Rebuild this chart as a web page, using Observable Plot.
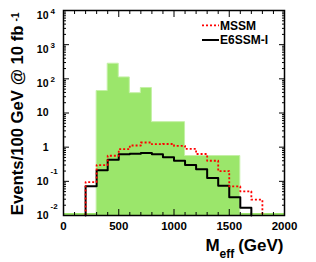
<!DOCTYPE html>
<html><head><meta charset="utf-8">
<script src="https://cdn.jsdelivr.net/npm/d3@7"></script>
<script src="https://cdn.jsdelivr.net/npm/@observablehq/plot@0.6"></script>
<style>
body{margin:0;background:#fff;}
#chart{position:relative;width:316px;height:262px;font-family:"Liberation Sans",Arial,sans-serif;}
#chart svg.plot{position:absolute;left:0;top:0;}
#legend{position:absolute;left:0;top:0;}
</style></head><body><div id="chart"></div>
<script>
// ---- data ----
const greenEdges = [300, 400, 500, 600, 700, 800, 1100, 1600];
const greenValues = [44, 277, 110, 38, 54, 5.4, 0.55];
const binEdges = [200, 300, 400, 500, 600, 700, 800, 900, 1000, 1100, 1200, 1300, 1400, 1500, 1600, 1700, 1800];
const mssmValues = [0.095, 0.30, 0.56, 0.88, 1.12, 1.37, 1.22, 1.24, 1.09, 0.89, 0.63, 0.40, 0.20, 0.071, 0.051, 0.029];
const e6ssmValues = [0.072, 0.21, 0.43, 0.625, 0.64, 0.67, 0.625, 0.51, 0.40, 0.30, 0.225, 0.125, 0.074, 0.034, 0.017];
const seriesNames = ["MSSM", "E6SSM-I"];
const xTickValues = [0, 500, 1000, 1500, 2000];
const xTickLabels = ["0", "500", "1000", "1500", "2000"];
const yTickValues = [1e-2, 1e-1, 1, 10, 1e2, 1e3, 1e4];
const yTickBase = ["10", "10", "1", "10", "10", "10", "10"];
const yTickExp = ["-2", "-1", "", "", "2", "3", "4"];
const yTitle = "Events/100 GeV @ 10 fb";
const yTitleExp = "-1";
const xTitleMain = "M", xTitleSub = "eff", xTitleUnit = "(GeV)";

// ---- derived ----
const yMin = yTickValues[0], yMax = yTickValues[yTickValues.length - 1];
const xMin = xTickValues[0], xMax = xTickValues[xTickValues.length - 1];
function stepPoints(edges, values) {
  const n = values.length;
  const pts = [{x: edges[0], y: yMin}];
  values.forEach((v, i) => pts.push({x: edges[i], y: v}));
  pts.push({x: edges[n], y: values[n - 1]});
  pts.push({x: edges[n], y: yMin});
  return pts;
}
const greenArea = stepPoints(greenEdges, greenValues);
const mssmLine = stepPoints(binEdges, mssmValues);
const e6Line = stepPoints(binEdges, e6ssmValues);
const minorX = d3.range(xMin, xMax + 1, 100).filter(v => !xTickValues.includes(v));
const minorY = [];
for (let e = -2; e < 4; e++) for (let k = 2; k < 10; k++) minorY.push(k * 10 ** e);
const yLab = yTickValues.map((v, i) => ({v, base: yTickBase[i], exp: yTickExp[i]}));
const xLab = xTickValues.map((v, i) => ({v, t: xTickLabels[i]}));

const GREEN = "#9be66b", RED = "#ff0000", DASH = "2,2";
const font = {fontFamily: "Liberation Sans, Arial, sans-serif", fontWeight: "bold", fill: "black"};
const noText = () => "";

const chart = Plot.plot({
  width: 316, height: 262,
  marginLeft: 63, marginRight: 32, marginTop: 10, marginBottom: 47,
  style: {background: "white", overflow: "visible"},
  x: {domain: [xMin, xMax], axis: null},
  y: {type: "log", domain: [yMin, yMax], axis: null},
  marks: [
    Plot.areaY(greenArea, {x: "x", y1: () => yMin, y2: "y", curve: "step-after", fill: GREEN, stroke: "#c4f0a6", strokeWidth: 1}),
    Plot.ruleY([yMin], {stroke: GREEN, strokeWidth: 2, dy: -1.5}),
    Plot.line(e6Line, {x: "x", y: "y", curve: "step-after", stroke: "black", strokeWidth: 2}),
    Plot.line(mssmLine, {x: "x", y: "y", curve: "step-after", stroke: RED, strokeWidth: 1.8, strokeDasharray: DASH, strokeLinecap: "butt"}),
    Plot.frame({stroke: "black", strokeWidth: 1.5}),
    Plot.axisX({anchor: "bottom", ticks: xTickValues, tickSize: -6, tickFormat: noText, label: null}),
    Plot.axisX({anchor: "bottom", ticks: minorX, tickSize: -3, tickFormat: noText, label: null}),
    Plot.axisX({anchor: "top", ticks: xTickValues, tickSize: -6, tickFormat: noText, label: null}),
    Plot.axisX({anchor: "top", ticks: minorX, tickSize: -3, tickFormat: noText, label: null}),
    Plot.axisY({anchor: "left", ticks: yTickValues, tickSize: -6, tickFormat: noText, label: null}),
    Plot.axisY({anchor: "left", ticks: minorY, tickSize: -3, tickFormat: noText, label: null}),
    Plot.axisY({anchor: "right", ticks: yTickValues, tickSize: -6, tickFormat: noText, label: null}),
    Plot.axisY({anchor: "right", ticks: minorY, tickSize: -3, tickFormat: noText, label: null}),
    // x tick labels
    Plot.text(xLab, {x: "v", text: "t", frameAnchor: "bottom", dy: 14.5, fontSize: 11.5, ...font}),
    // y tick labels: positive exponents
    Plot.text(yLab.filter(d => d.exp !== "" && !d.exp.startsWith("-")), {y: "v", text: "base", frameAnchor: "left", textAnchor: "end", dx: -15, dy: 5, fontSize: 10.5, ...font}),
    Plot.text(yLab.filter(d => d.exp !== "" && !d.exp.startsWith("-")), {y: "v", text: "exp", frameAnchor: "left", textAnchor: "start", dx: -13, dy: 0.5, fontSize: 8, ...font}),
    // negative exponents
    Plot.text(yLab.filter(d => d.exp.startsWith("-")), {y: "v", text: "base", frameAnchor: "left", textAnchor: "end", dx: -15, fontSize: 10.5, ...font}),
    Plot.text(yLab.filter(d => d.exp.startsWith("-")), {y: "v", text: "exp", frameAnchor: "left", textAnchor: "start", dx: -13, dy: -9.5, fontSize: 8, ...font}),
    // no exponent
    Plot.text(yLab.filter(d => d.exp === ""), {y: "v", text: "base", frameAnchor: "left", textAnchor: "end", dx: -15, fontSize: 10.5, ...font}),
    // y title
    Plot.text([yTitle], {text: d => d, frameAnchor: "top-left", rotate: -90, textAnchor: "end", lineAnchor: "bottom", dx: -41, dy: 15, fontSize: 16.7, ...font}),
    Plot.text([yTitleExp], {text: d => d, frameAnchor: "top-left", rotate: -90, textAnchor: "end", lineAnchor: "bottom", dx: -45, dy: 2, fontSize: 10, ...font}),
    // x title
    Plot.text([xTitleMain], {text: d => d, frameAnchor: "bottom-right", textAnchor: "start", lineAnchor: "bottom", dx: -79, dy: 35, fontSize: 17, ...font}),
    Plot.text([xTitleSub], {text: d => d, frameAnchor: "bottom-right", textAnchor: "start", lineAnchor: "bottom", dx: -65, dy: 42, fontSize: 12, ...font}),
    Plot.text([xTitleUnit], {text: d => d, frameAnchor: "bottom-right", textAnchor: "end", lineAnchor: "bottom", dx: -1, dy: 35, fontSize: 17, ...font})
  ]
});
const host = document.getElementById("chart");
host.appendChild(chart);

// legend overlay
const leg = d3.select(host).append("svg").attr("id", "legend").attr("width", 316).attr("height", 262);
const legStyles = [
  {stroke: RED, dash: DASH, w: 1.8, y: 25.3},
  {stroke: "black", dash: null, w: 2, y: 40}
];
seriesNames.forEach((name, i) => {
  const s = legStyles[i];
  leg.append("line").attr("x1", 202).attr("x2", 219).attr("y1", s.y).attr("y2", s.y)
    .attr("stroke", s.stroke).attr("stroke-width", s.w).attr("stroke-dasharray", s.dash);
  leg.append("text").attr("x", 220).attr("y", s.y).attr("dy", "0.36em")
    .attr("font-family", "Liberation Sans, Arial, sans-serif").attr("font-weight", "bold")
    .attr("font-size", 12).text(name);
});
</script></body></html>
